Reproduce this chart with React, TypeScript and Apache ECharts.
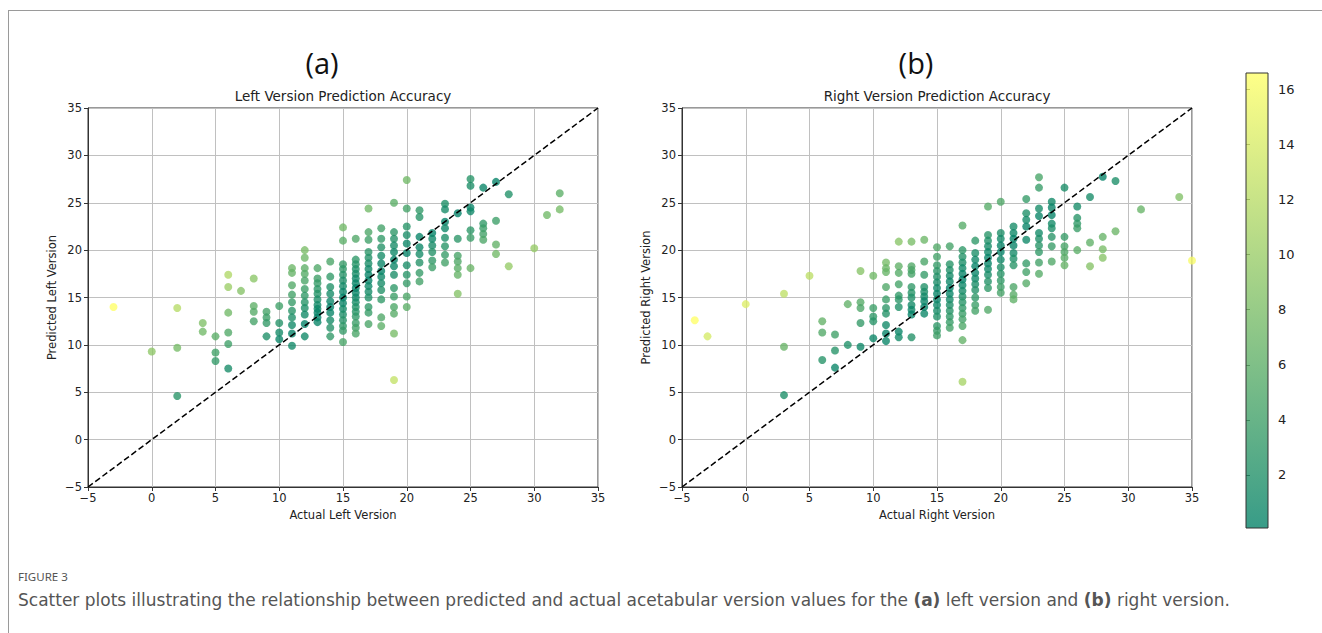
import React, { useEffect, useRef } from "react";
import * as echarts from "echarts";

const W = 1322;
const H = 633;
const FONT = "DejaVu Sans";

// Left version: actual values (integers) and predicted values at each actual value
const leftActual = [-3, 0, 2, 4, 5, 6, 7, 8, 9, 10, 11, 12, 13, 14, 15, 16, 17, 18, 19, 20, 21, 22, 23, 24, 25, 26, 27, 28, 30, 31, 32];
const leftPredicted: number[][] = [
  [14.0],
  [9.3],
  [13.9, 9.7, 4.6],
  [12.3, 11.4],
  [10.9, 9.2, 8.3],
  [17.4, 16.1, 13.4, 11.3, 10.1, 7.5],
  [15.7],
  [17.0, 14.1, 13.5, 12.5],
  [13.5, 12.9, 12.3, 10.9],
  [14.1, 12.3, 11.3, 10.6],
  [18.1, 17.6, 16.3, 15.3, 14.5, 13.6, 12.9, 12.1, 11.2, 9.9],
  [20.0, 19.2, 18.1, 17.5, 16.8, 15.9, 15.2, 14.5, 13.9, 13.2, 12.2, 10.9],
  [18.1, 17.0, 16.5, 15.9, 15.4, 14.8, 14.2, 13.8, 13.4, 12.9, 12.4],
  [18.8, 17.2, 16.1, 15.4, 14.6, 14.0, 13.4, 12.6, 11.8, 10.9],
  [22.4, 21.0, 18.5, 18.0, 17.4, 16.8, 16.2, 15.6, 15.0, 14.4, 13.8, 13.2, 12.6, 12.0, 11.5, 10.3],
  [21.2, 19.0, 18.5, 18.0, 17.5, 17.0, 16.5, 16.0, 15.5, 15.0, 14.5, 14.0, 13.5, 13.0, 12.3, 11.8, 11.2],
  [24.4, 21.9, 21.1, 19.8, 19.2, 18.6, 18.0, 17.4, 16.8, 16.2, 15.6, 15.0, 14.0, 13.4, 12.2],
  [22.3, 21.2, 20.3, 19.4, 18.6, 17.8, 17.2, 16.5, 15.8, 14.8, 12.9, 12.0],
  [25.0, 21.9, 21.2, 20.5, 19.8, 19.0, 18.3, 17.4, 16.0, 15.1, 14.0, 13.3, 11.2, 6.3],
  [27.4, 24.4, 22.5, 21.6, 20.7, 19.7, 18.4, 17.4, 16.5, 15.1, 14.0],
  [24.2, 23.5, 21.4, 20.3, 19.6, 18.7, 17.6, 16.7],
  [21.8, 21.2, 20.5, 19.8, 18.9, 18.2],
  [24.9, 24.3, 23.0, 22.3, 21.3, 20.4, 19.5, 18.7],
  [23.9, 21.2, 19.4, 18.8, 18.1, 17.4, 15.4],
  [27.5, 26.8, 24.5, 24.1, 22.1, 21.3, 18.1],
  [26.6, 22.8, 22.3, 21.7, 21.1],
  [27.2, 23.1, 20.6, 19.6],
  [25.9, 18.3],
  [20.2],
  [23.7],
  [26.0, 24.3],
];

// Right version
const rightActual = [-4, -3, 0, 3, 5, 6, 7, 8, 9, 10, 11, 12, 13, 14, 15, 16, 17, 18, 19, 20, 21, 22, 23, 24, 25, 26, 27, 28, 29, 31, 34, 35];
const rightPredicted: number[][] = [
  [12.6],
  [10.9],
  [14.3],
  [15.4, 9.8, 4.7],
  [17.3],
  [12.5, 11.3, 8.4],
  [11.1, 9.4, 7.6],
  [14.3, 10.0],
  [17.8, 14.5, 13.9, 12.3, 9.8],
  [17.3, 13.9, 13.0, 12.5, 10.7],
  [18.7, 18.1, 17.7, 16.1, 14.8, 13.9, 13.3, 12.1, 11.2, 10.4],
  [20.9, 18.3, 17.6, 16.4, 15.2, 14.8, 14.0, 11.4, 10.8],
  [20.9, 18.3, 17.9, 17.5, 16.1, 15.5, 15.0, 14.2, 13.7, 13.2, 10.8],
  [21.1, 18.8, 17.4, 16.1, 15.6, 15.1, 14.6, 14.0, 13.3],
  [20.3, 19.3, 18.4, 17.8, 17.2, 16.6, 16.0, 15.4, 14.8, 14.2, 13.6, 13.0, 12.0, 11.5, 11.0],
  [20.4, 18.5, 17.9, 17.3, 16.7, 16.0, 15.4, 14.8, 14.2, 13.6, 13.0, 12.4, 11.8],
  [22.6, 20.0, 19.3, 18.7, 18.1, 17.5, 16.9, 16.3, 15.7, 15.1, 14.5, 13.9, 13.3, 12.7, 12.0, 10.5, 6.1],
  [21.0, 19.7, 19.0, 18.3, 17.6, 17.0, 16.4, 15.8, 15.0, 14.2, 13.6],
  [24.6, 21.6, 21.0, 20.4, 19.8, 19.2, 18.6, 18.0, 17.4, 16.7, 16.0, 13.7],
  [25.1, 21.8, 21.2, 20.5, 19.8, 19.0, 18.2, 17.5, 16.8, 16.1, 15.5],
  [22.5, 21.8, 21.2, 20.5, 19.7, 19.1, 18.4, 16.1, 15.3, 14.8],
  [25.4, 23.9, 23.2, 22.5, 21.1, 18.6, 17.7, 16.5],
  [27.7, 26.6, 24.4, 23.6, 21.8, 21.2, 20.5, 19.8, 18.7, 17.5],
  [25.1, 24.5, 23.7, 22.8, 22.3, 21.4, 20.4, 18.8],
  [26.6, 21.4, 20.4, 19.8, 19.2, 18.4],
  [24.6, 23.4, 22.8, 22.3, 20.0],
  [25.6, 20.8, 18.3],
  [27.75, 21.4, 20.1, 19.2],
  [27.3, 22.0],
  [24.3],
  [25.6],
  [18.9],
];

const axisTicks = [-5, 0, 5, 10, 15, 20, 25, 30, 35];
const identityLine = [[-5, -5], [35, 35]];
const colorbarTicks = [2, 4, 6, 8, 10, 12, 14, 16];
const colorbarMin = 0.07;
const colorbarMax = 16.6;
const summerColors = ["#008066", "#ffff66"];

function toPoints(xs: number[], ys: number[][]) {
  const out: number[][] = [];
  xs.forEach((x, i) => ys[i].forEach((y) => out.push([x, y, Math.abs(y - x)])));
  return out;
}

const minus = (v: number) => (v < 0 ? "\u2212" + Math.abs(v) : String(v));

const GL = { left: 88, top: 108, width: 510, height: 379 };
const GR = { left: 682, top: 108, width: 510, height: 379 };
const CB = { left: 1246, top: 73, width: 22, height: 455 };

function xAxisCfg(gridIndex: number, name: string) {
  return {
    gridIndex,
    type: "value",
    min: axisTicks[0],
    max: axisTicks[axisTicks.length - 1],
    interval: 5,
    name,
    nameLocation: "middle",
    nameGap: 22,
    nameTextStyle: { fontFamily: FONT, fontSize: 11.5, color: "#222" },
    axisLine: { show: true, onZero: false, lineStyle: { color: "#333", width: 1 } },
    axisTick: { show: true, length: 4, lineStyle: { color: "#333" } },
    axisLabel: { formatter: minus, fontFamily: FONT, fontSize: 11.5, color: "#222", margin: 5 },
    splitLine: { show: true, lineStyle: { color: "#c0c0c0", width: 1 } },
  };
}
function yAxisCfg(gridIndex: number, name: string) {
  return {
    gridIndex,
    type: "value",
    min: axisTicks[0],
    max: axisTicks[axisTicks.length - 1],
    interval: 5,
    name,
    nameLocation: "middle",
    nameGap: 30,
    nameTextStyle: { fontFamily: FONT, fontSize: 11.5, color: "#222" },
    axisLine: { show: true, onZero: false, lineStyle: { color: "#333", width: 1 } },
    axisTick: { show: true, length: 4, lineStyle: { color: "#333" } },
    axisLabel: { formatter: minus, fontFamily: FONT, fontSize: 11.5, color: "#222", margin: 6 },
    splitLine: { show: true, lineStyle: { color: "#c0c0c0", width: 1 } },
  };
}

export default function App() {
  const ref = useRef<HTMLDivElement>(null);
  useEffect(() => {
    document.body.style.margin = "0";
    if (!ref.current) return;
    const chart = echarts.init(ref.current, null, { renderer: "svg" });
    const gridStyle = { show: true, borderColor: "#333", borderWidth: 1, backgroundColor: "transparent" };
    const scatterCommon = {
      type: "scatter",
      symbolSize: 8,
      itemStyle: { opacity: 0.78 },
      silent: true,
      z: 2,
    };
    const lineCommon = {
      type: "line",
      data: identityLine,
      symbol: "none",
      silent: true,
      lineStyle: { color: "#000", width: 1.5, type: [6, 3] },
      z: 5,
    };
    const option: any = {
      animation: false,
      backgroundColor: "#fff",
      grid: [
        { ...GL, ...gridStyle },
        { ...GR, ...gridStyle },
        { ...CB, show: false },
      ],
      xAxis: [
        xAxisCfg(0, "Actual Left Version"),
        xAxisCfg(1, "Actual Right Version"),
        { gridIndex: 2, type: "value", min: 0, max: 1, show: false },
      ],
      yAxis: [
        yAxisCfg(0, "Predicted Left Version"),
        yAxisCfg(1, "Predicted Right Version"),
        {
          gridIndex: 2,
          type: "value",
          position: "right",
          min: colorbarMin,
          max: colorbarMax,
          axisLine: { show: false },
          splitLine: { show: false },
          axisTick: { show: true, length: 4, customValues: colorbarTicks, lineStyle: { color: "#333" } },
          axisLabel: { customValues: colorbarTicks, fontFamily: FONT, fontSize: 13, color: "#222", margin: 10 },
        },
      ],
      visualMap: [
        {
          type: "continuous",
          show: false,
          min: colorbarMin,
          max: colorbarMax,
          dimension: 2,
          seriesIndex: [0, 1],
          inRange: { color: summerColors },
        },
      ],
      series: [
        { ...scatterCommon, xAxisIndex: 0, yAxisIndex: 0, data: toPoints(leftActual, leftPredicted) },
        { ...scatterCommon, xAxisIndex: 1, yAxisIndex: 1, data: toPoints(rightActual, rightPredicted) },
        { ...lineCommon, xAxisIndex: 0, yAxisIndex: 0 },
        { ...lineCommon, xAxisIndex: 1, yAxisIndex: 1 },
        { type: "scatter", xAxisIndex: 2, yAxisIndex: 2, data: [], silent: true },
      ],
      graphic: [
        { type: "line", shape: { x1: 8, y1: 10.5, x2: W, y2: 10.5 }, style: { stroke: "#9a9a9a", lineWidth: 1 }, silent: true },
        { type: "line", shape: { x1: 8.5, y1: 10, x2: 8.5, y2: H }, style: { stroke: "#9a9a9a", lineWidth: 1 }, silent: true },
        {
          type: "text", x: 322, y: 62, silent: true,
          style: { text: "(a)", fontFamily: "Open Sans", fontSize: 29, fill: "#111", textAlign: "center", textVerticalAlign: "middle" },
        },
        {
          type: "text", x: 916, y: 62, silent: true,
          style: { text: "(b)", fontFamily: "Open Sans", fontSize: 29, fill: "#111", textAlign: "center", textVerticalAlign: "middle" },
        },
        {
          type: "text", x: GL.left + GL.width / 2, y: 96, silent: true,
          style: { text: "Left Version Prediction Accuracy", fontFamily: FONT, fontSize: 13.5, fill: "#222", textAlign: "center", textVerticalAlign: "middle" },
        },
        {
          type: "text", x: GR.left + GR.width / 2, y: 96, silent: true,
          style: { text: "Right Version Prediction Accuracy", fontFamily: FONT, fontSize: 13.5, fill: "#222", textAlign: "center", textVerticalAlign: "middle" },
        },
        {
          type: "rect", silent: true, z: 1,
          shape: { x: CB.left, y: CB.top, width: CB.width, height: CB.height },
          style: {
            fill: new echarts.graphic.LinearGradient(0, 0, 0, 1, [
              { offset: 0, color: "rgba(255,255,102,0.78)" },
              { offset: 1, color: "rgba(0,128,102,0.78)" },
            ]),
            stroke: "#333",
            lineWidth: 1,
          },
        },
        {
          type: "text", x: 18, y: 576, silent: true,
          style: { text: "FIGURE 3", fontFamily: "Noto Sans", fontSize: 11.5, fill: "#555", textVerticalAlign: "middle" },
        },
        {
          type: "text", x: 18, y: 600, silent: true,
          style: {
            text: "{n|Scatter plots illustrating the relationship between predicted and actual acetabular version values for the }{b|(a)}{n| left version and }{b|(b)}{n| right version.}",
            textVerticalAlign: "middle",
            rich: {
              n: { fontFamily: FONT, fontSize: 17, fill: "#555", color: "#555" },
              b: { fontFamily: FONT, fontSize: 17, fontWeight: "bold", fill: "#555", color: "#555" },
            },
          },
        },
      ],
    };
    chart.setOption(option);
    return () => chart.dispose();
  }, []);
  return <div ref={ref} style={{ width: W, height: H }} />;
}
